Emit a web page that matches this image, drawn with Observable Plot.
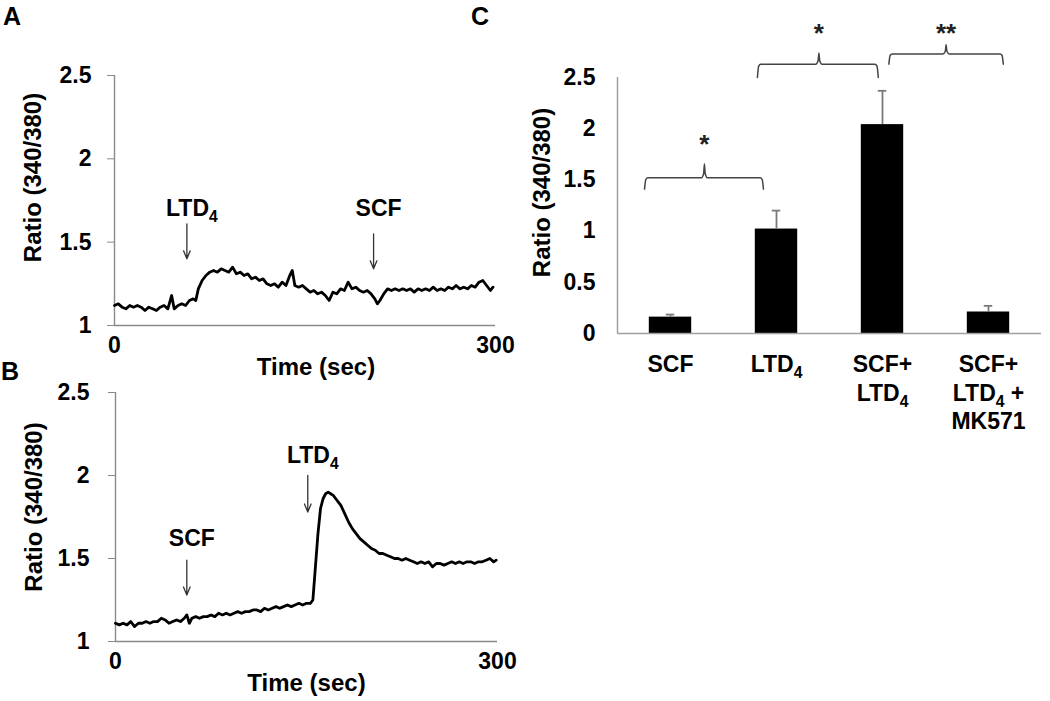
<!DOCTYPE html>
<html><head><meta charset="utf-8">
<script src="https://cdn.jsdelivr.net/npm/d3@7"></script>
<script src="https://cdn.jsdelivr.net/npm/@observablehq/plot@0.6"></script>
<style>
body{margin:0;background:#fff;width:1050px;height:701px;position:relative;overflow:hidden;font-family:"Liberation Sans",Arial,sans-serif;}
.panel{position:absolute;}
.lbl{position:absolute;font-weight:bold;font-size:25px;line-height:1;}
</style></head><body>
<div class="lbl" style="left:3px;top:4px">A</div>
<div class="lbl" style="left:1px;top:359px">B</div>
<div class="lbl" style="left:471px;top:4px">C</div>
<div id="pa" class="panel" style="left:0;top:60px;width:520px"></div>
<div id="pb" class="panel" style="left:0;top:380px;width:520px"></div>
<div id="pc" class="panel" style="left:520px;top:0;width:530px"></div>
<script>
// ---- Panel A: time course (LTD4 then SCF)
const timeA = [0,3,6,9,12,15,18,21,24,27,30,33,36,39,42,45,47,50,53,56,59,62,64,66,69,72,75,78,81,84,87,90,93,96,99,102,105,108,111,114,117,120,123,126,129,132,135,138,140,142,145,148,151,154,157,160,163,166,169,172,175,178,181,184,187,190,193,196,199,202,205,207,209,212,215,218,221,224,227,230,233,236,239,242,245,248,251,254,257,260,263,266,269,272,275,278,281,284,287,290,293,296,298];
const ratioA = [1.12,1.13,1.11,1.10,1.12,1.11,1.12,1.11,1.09,1.11,1.10,1.09,1.11,1.12,1.10,1.18,1.10,1.12,1.13,1.12,1.15,1.16,1.15,1.22,1.27,1.30,1.32,1.33,1.32,1.34,1.33,1.32,1.35,1.31,1.32,1.30,1.31,1.28,1.29,1.27,1.28,1.25,1.24,1.25,1.23,1.26,1.24,1.30,1.33,1.24,1.23,1.24,1.22,1.20,1.21,1.19,1.20,1.18,1.15,1.20,1.19,1.22,1.21,1.26,1.22,1.23,1.21,1.20,1.21,1.19,1.16,1.13,1.15,1.19,1.22,1.21,1.22,1.21,1.22,1.21,1.22,1.20,1.22,1.21,1.22,1.21,1.23,1.21,1.22,1.21,1.23,1.22,1.24,1.22,1.23,1.22,1.24,1.23,1.26,1.27,1.24,1.21,1.23];
const stimA = ["LTD4","SCF"];
const stimTimeA = [57,204];
const arrowTopA = [1.61,1.55];
const arrowTipA = [1.40,1.34];
const stimLabelYA = [1.70,1.70];

// ---- Panel B: time course (SCF then LTD4)
const timeB = [0,3,6,9,12,15,18,21,24,27,30,33,36,39,42,45,48,51,54,56,58,60,63,66,69,72,75,78,81,84,87,90,93,96,99,102,105,108,111,114,117,120,123,126,129,132,135,138,141,144,147,150,153,155,157,159,161,163,165,167,169,171,173,175,177,180,183,186,189,192,195,198,201,204,207,210,213,216,219,222,225,228,231,234,237,240,243,246,249,252,255,258,261,264,267,270,273,276,279,282,285,288,291,294,297,299];
const ratioB = [1.11,1.10,1.11,1.10,1.12,1.09,1.11,1.11,1.12,1.11,1.12,1.12,1.14,1.13,1.11,1.12,1.13,1.12,1.14,1.16,1.11,1.14,1.15,1.14,1.15,1.15,1.16,1.15,1.17,1.16,1.17,1.16,1.17,1.18,1.17,1.18,1.18,1.19,1.19,1.18,1.20,1.19,1.20,1.21,1.20,1.21,1.22,1.21,1.22,1.23,1.22,1.23,1.23,1.25,1.45,1.65,1.80,1.86,1.89,1.90,1.89,1.88,1.86,1.84,1.82,1.77,1.72,1.68,1.65,1.62,1.60,1.58,1.56,1.55,1.53,1.53,1.52,1.51,1.50,1.50,1.49,1.50,1.49,1.48,1.47,1.48,1.47,1.48,1.45,1.47,1.47,1.46,1.47,1.48,1.47,1.48,1.47,1.48,1.48,1.47,1.48,1.48,1.49,1.50,1.48,1.49];
const stimB = ["SCF","LTD4"];
const stimTimeB = [56,151];
const arrowTopB = [1.49,2.00];
const arrowTipB = [1.28,1.78];
const stimLabelYB = [1.62,2.12];

const ratioTicksAB = [1,1.5,2,2.5];
const timeTicks = [0,300];

// ---- Panel C: bar chart
const categories = ["SCF","LTD4","SCF+\nLTD4","SCF+\nLTD4 +\nMK571"];
const meanC = [0.16,1.02,2.04,0.21];
const errC = [0.025,0.18,0.33,0.06];
const ratioTicksC = [0,0.5,1,1.5,2,2.5];
// significance brackets: left, right, centre (category units), line level, end level, tip level
const bracketLeft = [-0.245,0.82,2.06];
const bracketRight = [0.877,1.96,3.14];
const bracketTip = [0.32,1.40,2.60];
const bracketLevel = [1.52,2.63,2.73];
const bracketEnd = [1.41,2.50,2.63];
const bracketTop = [1.655,2.74,2.82];
const starText = ["*","*","**"];
const starY = [1.84,2.93,2.93];

const FONT = "Liberation Sans, Arial, sans-serif";
const AX = "#8a8a8a";
const fmt = d => String(d);

function subscript4(svg) {
  const walker = document.createTreeWalker(svg, NodeFilter.SHOW_TEXT);
  const nodes = [];
  while (walker.nextNode()) if (walker.currentNode.nodeValue.includes("LTD4")) nodes.push(walker.currentNode);
  for (const n of nodes) {
    const s = n.nodeValue, k = s.indexOf("LTD4");
    const parent = n.parentNode;
    const before = document.createTextNode(s.slice(0, k + 3));
    const sub = document.createElementNS("http://www.w3.org/2000/svg", "tspan");
    sub.setAttribute("baseline-shift", "-6");
    sub.setAttribute("font-size", "0.68em");
    sub.textContent = "4";
    const after = document.createTextNode(s.slice(k + 4));
    parent.insertBefore(before, n);
    parent.insertBefore(sub, n);
    parent.insertBefore(after, n);
    parent.removeChild(n);
  }
}

function trace(times, vals, labels, st, top, tip, ly, opt) {
  const data = times.map((t, i) => ({t, v: vals[i]}));
  const stim = labels.map((l, i) => ({l, t: st[i], y1: top[i], y2: tip[i], ly: ly[i]}));
  const fr = opt.frameBottom;
  return Plot.plot({
    width: 520, height: fr + 55,
    marginLeft: opt.left, marginRight: 520 - opt.right, marginTop: opt.top, marginBottom: 55,
    style: {background: "transparent", fontFamily: FONT, overflow: "visible", color: "#000"},
    x: {domain: [0, 300]},
    y: {domain: [1, 2.5]},
    marks: [
      Plot.ruleY([1], {stroke: AX, strokeWidth: 1.4}),
      Plot.ruleX([0], {stroke: AX, strokeWidth: 1.4}),
      Plot.axisY({ticks: ratioTicksAB, tickFormat: fmt, tickSize: 7, stroke: AX, tickPadding: opt.ypad, fontSize: 23, fontWeight: "bold", label: null, fill: "#000"}),
      Plot.axisX({ticks: timeTicks, tickFormat: fmt, tickSize: 0, tickPadding: 11, fontSize: 23, fontWeight: "bold", label: null, fill: "#000"}),
      Plot.text(["Ratio (340/380)"], {frameAnchor: "left", rotate: -90, dx: -81, dy: opt.ylabDy, fontSize: 24, fontWeight: "bold", textAnchor: "middle"}),
      Plot.text(["Time (sec)"], {frameAnchor: "bottom", dy: opt.xlabDy, dx: opt.xlabDx, fontSize: 24, fontWeight: "bold", lineAnchor: "middle"}),
      Plot.line(data, {x: "t", y: "v", stroke: "#000", strokeWidth: 2.8, strokeLinejoin: "round"}),
      Plot.arrow(stim, {x1: "t", x2: "t", y1: "y1", y2: "y2", stroke: "#333", strokeWidth: 1.3, headLength: 10, headAngle: 45}),
      Plot.text(stim, {x: "t", y: "ly", text: "l", dx: 5, fontSize: 23, fontWeight: "bold"})
    ]
  });
}

const a = trace(timeA, ratioA, stimA, stimTimeA, arrowTopA, arrowTipA, stimLabelYA,
  {left: 114, right: 495, top: 15, frameBottom: 265, ylabDy: -23, xlabDy: 42, xlabDx: 11, ypad: 16});
subscript4(a);
document.getElementById("pa").append(a);

const b = trace(timeB, ratioB, stimB, stimTimeB, arrowTopB, arrowTipB, stimLabelYB,
  {left: 115, right: 497, top: 12, frameBottom: 261, ylabDy: -10, xlabDy: 42, xlabDx: 0, ypad: 19});
subscript4(b);
document.getElementById("pb").append(b);

// Panel C
const bars = categories.map((c, i) => ({c, i, m: meanC[i], hi: meanC[i] + errC[i]}));
const braces = [];
bracketLeft.forEach((x1, k) => {
  const x2 = bracketRight[k], xc = bracketTip[k], y = bracketLevel[k], ye = bracketEnd[k], yt = bracketTop[k], d = 0.03;
  [[x1, ye], [x1 + d * 0.4, y - (y - ye) * 0.15], [x1 + d, y], [xc - d, y], [xc - d * 0.25, y + (yt - y) * 0.3], [xc, yt],
   [xc + d * 0.25, y + (yt - y) * 0.3], [xc + d, y], [x2 - d, y], [x2 - d * 0.4, y - (y - ye) * 0.15], [x2, ye]]
    .forEach(([x, yy]) => braces.push({k, x, y: yy}));
});
const stars = starText.map((s, k) => ({s, x: bracketTip[k], y: starY[k]}));

const c = Plot.plot({
  width: 530, height: 440,
  marginLeft: 97, marginRight: 9, marginTop: 77, marginBottom: 107,
  style: {background: "transparent", fontFamily: FONT, overflow: "visible", color: "#000"},
  x: {domain: [-0.5, 3.5], axis: null},
  y: {domain: [0, 2.5]},
  marks: [
    Plot.rectY(bars, {x1: d => d.i - 0.2, x2: d => d.i + 0.2, y1: 0, y2: "m", fill: "#000"}),
    Plot.ruleX(bars, {x: "i", y1: "m", y2: "hi", stroke: "#7a7a7a", strokeWidth: 1.8}),
    Plot.ruleY(bars, {y: "hi", x1: d => d.i - 0.04, x2: d => d.i + 0.04, stroke: "#7a7a7a", strokeWidth: 1.8}),
    Plot.ruleY([0], {stroke: "#a0a0a0", strokeWidth: 1.5}),
    Plot.ruleX([-0.5], {stroke: "#a0a0a0", strokeWidth: 1.5}),
    Plot.axisY({ticks: ratioTicksC, tickFormat: fmt, tickSize: 0, tickPadding: 22, fontSize: 23, fontWeight: "bold", label: null, fill: "#000"}),
    Plot.text(["Ratio (340/380)"], {frameAnchor: "left", rotate: -90, dx: -75, dy: -13, fontSize: 24, fontWeight: "bold", textAnchor: "middle"}),
    Plot.text(bars, {x: "i", y: 0, text: "c", lineAnchor: "top", dy: 18, lineHeight: 1.25, fontSize: 23, fontWeight: "bold"}),
    Plot.line(braces, {x: "x", y: "y", z: "k", stroke: "#444", strokeWidth: 1.5, curve: "monotone-x"}),
    Plot.text(stars, {x: "x", y: "y", text: "s", fontSize: 26, fontWeight: "bold", fill: "#222", letterSpacing: 2})
  ]
});
subscript4(c);
document.getElementById("pc").append(c);
</script>
</body></html>
